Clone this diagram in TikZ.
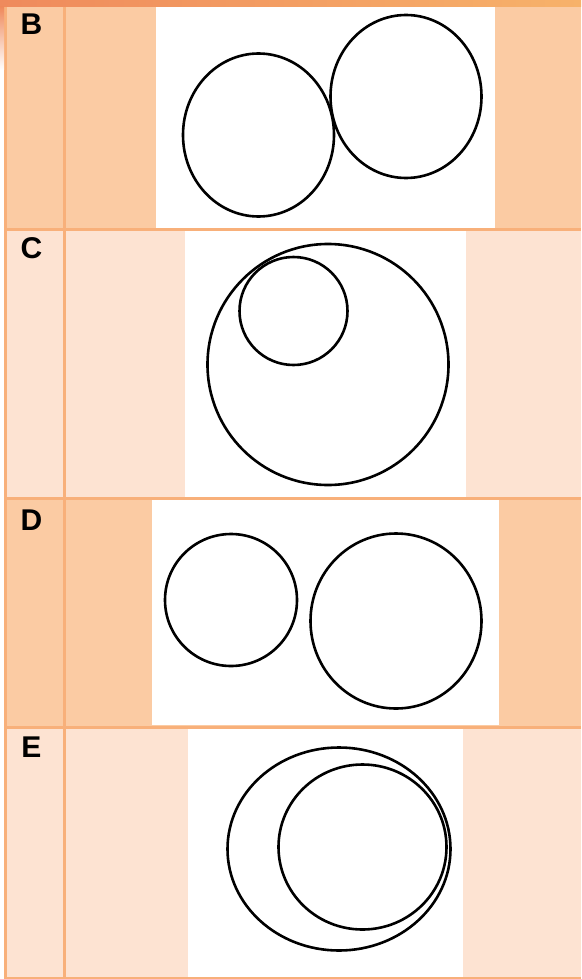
\documentclass[tikz,border=0pt]{standalone}
\usepackage{fontspec}
\setmainfont{Liberation Sans}
\definecolor{rowdark}{RGB}{251,203,163}
\definecolor{rowlight}{RGB}{253,227,210}
\definecolor{gridc}{RGB}{248,176,122}
\definecolor{topL}{RGB}{239,138,92}
\definecolor{topR}{RGB}{247,178,106}
\begin{document}
\begin{tikzpicture}[x=1pt,y=-1pt,
  lab/.style={font=\bfseries\fontsize{30}{30}\selectfont, inner sep=0pt, anchor=center},
  ring/.style={draw=black, line width=2.6pt},
  gridline/.style={draw=gridc, line width=3pt}]
\useasboundingbox (0,0) rectangle (581,979);
\fill[white] (0,0) rectangle (581,979);
% rows
\fill[rowdark]  (5.5,7) rectangle (581,229.5);
\fill[rowlight] (5.5,229.5) rectangle (581,498);
\fill[rowdark]  (5.5,498) rectangle (581,727);
\fill[rowlight] (5.5,727) rectangle (581,978);
% picture areas
\fill[white] (156,7) rectangle (495,228);
\fill[white] (185,231) rectangle (466,497);
\fill[white] (152,499) rectangle (499,725);
\fill[white] (188,728) rectangle (463,977);
% circles B
\draw[ring] (258.5,135) ellipse [x radius=75.5, y radius=81.5];
\draw[ring] (406,96.5) ellipse [x radius=75.5, y radius=81.5];
% circles C
\draw[ring] (328,364.5) ellipse [x radius=120.5, y radius=120.5];
\draw[ring] (293.5,311) circle [radius=54];
% circles D
\draw[ring] (231,600) circle [radius=66];
\draw[ring] (396,621) ellipse [x radius=85.5, y radius=87.5];
% circles E
\draw[ring] (339,849) ellipse [x radius=111.5, y radius=101.5];
\draw[ring] (362.5,847) ellipse [x radius=84, y radius=82.5];
% grid
\draw[gridline] (5.5,7) -- (5.5,978);
\draw[gridline] (64.5,7) -- (64.5,978);
\draw[gridline] (5.5,229.5) -- (581,229.5);
\draw[gridline] (5.5,498) -- (581,498);
\draw[gridline] (5.5,727) -- (581,727);
\draw[gridline] (4,978) -- (581,978);
% top bar
\shade[left color=topL, right color=topR] (0,0) rectangle (581,7);
\shade[top color=topL, bottom color=white] (0,7) rectangle (4,70);
% labels
\node[lab] (lB) at (31.5,24.5) {B};
\node[lab] (lC) at (31.5,248.5) {C};
\node[lab] (lD) at (31.5,520) {D};
\node[lab] (lE) at (31.5,747) {E};
\end{tikzpicture}
\end{document}
